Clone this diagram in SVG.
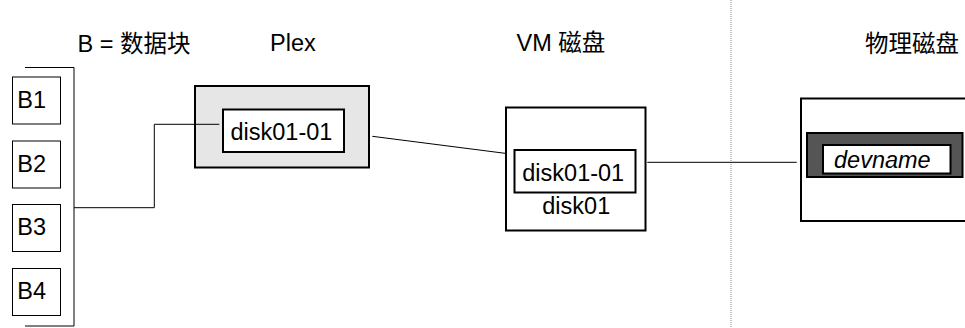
<svg xmlns="http://www.w3.org/2000/svg" width="965" height="328" viewBox="0 0 965 328">
<style>
text{font-family:"Liberation Sans","Noto Sans CJK SC",sans-serif;font-size:23.5px;fill:#000}
.thin{fill:#fff;stroke:#000;stroke-width:1}
.thick{fill:#fff;stroke:#000;stroke-width:2}
.line{fill:none;stroke:#000;stroke-width:1}
</style>
<rect width="965" height="328" fill="#fff"/>
<g id="headings">
<text x="77.5" y="52">B = 数据块</text>
<text x="270" y="51">Plex</text>
<text x="516.5" y="51">VM 磁盘</text>
<text x="865" y="52">物理磁盘</text>
</g>
<line x1="731" y1="0" x2="731" y2="328" stroke="#888" stroke-width="1" stroke-dasharray="1 1"/>
<g id="blocks">
<path class="line" d="M25 67.5H74V326H25"/>
<g id="B1"><rect class="thin" x="12.5" y="77" width="48" height="47"/><text x="17.3" y="107.5">B1</text></g>
<g id="B2"><rect class="thin" x="12.5" y="141" width="48" height="47"/><text x="17.3" y="171.5">B2</text></g>
<g id="B3"><rect class="thin" x="12.5" y="204.5" width="48" height="47"/><text x="17.3" y="235">B3</text></g>
<g id="B4"><rect class="thin" x="12.5" y="268.5" width="48" height="47"/><text x="17.3" y="299">B4</text></g>
</g>
<g id="plex">
<rect x="195" y="86" width="174" height="81.5" fill="#e6e6e6" stroke="#000" stroke-width="2"/>
<rect class="thick" x="223" y="109.5" width="121" height="42.5"/>
<text x="230.5" y="140">disk01-01</text>
</g>
<g id="vmdisk">
<rect class="thick" x="506" y="107.5" width="139.5" height="123"/>
<rect class="thick" x="514.5" y="150" width="121" height="42.5"/>
<text x="522.3" y="181">disk01-01</text>
<text x="542.3" y="214">disk01</text>
</g>
<g id="physdisk">
<rect class="thick" x="801" y="98.5" width="180" height="122.5"/>
<rect x="807" y="133" width="155.5" height="44" fill="#555" stroke="#000" stroke-width="2"/>
<rect class="thick" x="823" y="145" width="127.5" height="28.5"/>
<text x="834" y="168.3" font-style="italic">devname</text>
</g>
<g id="connectors">
<path class="line" d="M74 207.7H154.3V124.3H219.3"/>
<line class="line" x1="372.3" y1="136.3" x2="505" y2="153.3"/>
<line class="line" x1="647.3" y1="162.3" x2="796.7" y2="162.3"/>
</g>
</svg>
